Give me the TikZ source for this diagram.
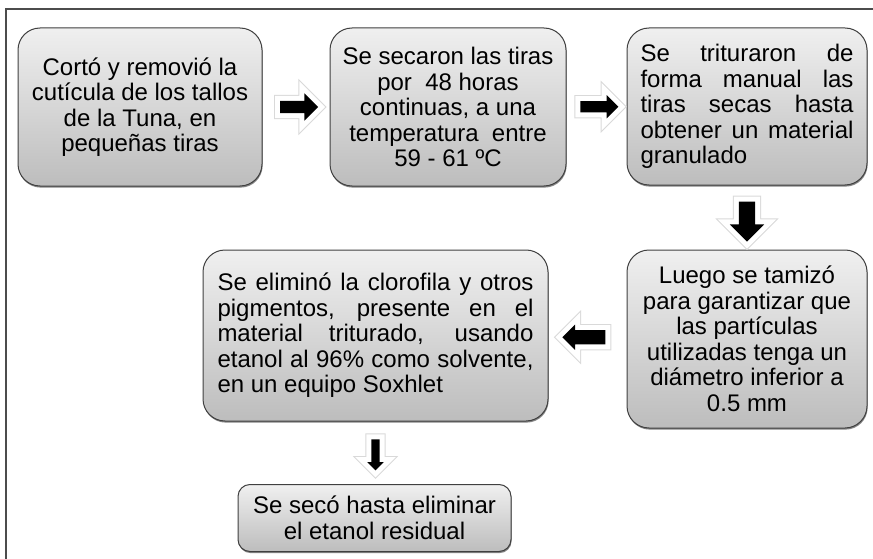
\documentclass[tikz,border=0pt]{standalone}
\usepackage{fontspec}
\setmainfont{Liberation Sans}
\usetikzlibrary{calc,shapes.arrows,shadows}

\begin{document}
\begin{tikzpicture}[x=1pt,y=-1pt,
  stepbox/.style={draw=black!75,line width=1pt,rounded corners=22pt,top color=gray!12,bottom color=gray!52,
    drop shadow={shadow xshift=0.6pt,shadow yshift=-1.6pt,fill=black!60,opacity=0.8},
    font=\fontsize{24}{25.5}\selectfont,inner xsep=12pt,inner ysep=4pt},
  blockarr/.style={single arrow,fill=black,inner xsep=0pt,
    preaction={draw=black!15,line width=12pt},preaction={draw=white,line width=10pt}}]
\useasboundingbox (0,0) rectangle (873,559);
\draw[black!70,line width=1.3pt] (6,9) rectangle (890,580);

\node[stepbox,minimum width=244pt,minimum height=158pt,align=center] (corte) at (140,107)
  {Cortó y removió la\\cutícula de los tallos\\de la Tuna, en\\pequeñas tiras};
\node[stepbox,minimum width=236pt,minimum height=158pt,align=center] (secado) at (448,107)
  {Se secaron las tiras\\por \ 48 horas\\continuas, a una\\temperatura \ entre\\59 - 61 ºC};
\node[stepbox,minimum width=240pt,minimum height=157pt,text width=213pt,inner xsep=13.5pt,align=justify] (triturado) at (747,106.5)
  {Se trituraron de\linebreak forma manual las\linebreak tiras secas hasta\linebreak obtener un material\linebreak granulado};
\node[stepbox,minimum width=240pt,minimum height=178pt,align=center] (tamizado) at (747,339)
  {Luego se tamizó\\para garantizar que\\las partículas\\utilizadas tenga un\\diámetro inferior a\\0.5 mm};
\node[stepbox,minimum width=345pt,minimum height=171pt,text width=316pt,inner xsep=14.5pt,align=justify] (clorofila) at (375.5,335.5)
  {Se eliminó la clorofila y otros\linebreak pigmentos, presente en el\linebreak material triturado, usando\linebreak etanol al 96\% como solvente,\linebreak en un equipo Soxhlet};
\node[stepbox,rounded corners=12pt,minimum width=273pt,minimum height=67pt,align=center] (etanol) at (374.5,518)
  {Se secó hasta eliminar\\el etanol residual};

\node[blockarr,minimum height=38pt,inner ysep=6pt,single arrow head extend=7.5pt] (f1) at ($(corte.east)!0.5!(secado.west)$) {};
\node[blockarr,minimum height=38pt,inner ysep=5.5pt,single arrow head extend=6pt] (f2) at ($(secado.east)!0.5!(triturado.west)$) {};
\node[blockarr,shape border rotate=270,minimum height=40pt,inner xsep=8pt,inner ysep=0pt,single arrow head extend=9pt] (f3) at ($(triturado.south)!0.5!(tamizado.north)$) {};
\node[blockarr,shape border rotate=180,minimum height=43pt,inner ysep=7pt,single arrow head extend=5.5pt] (f4) at ($(tamizado.west)!0.5!(clorofila.east)$) {};
\node[blockarr,shape border rotate=270,minimum height=31pt,inner xsep=4pt,inner ysep=0pt,single arrow head extend=4pt] (f5) at ($(clorofila.south)!0.5!(clorofila.south|-etanol.north)$) {};
\end{tikzpicture}
\end{document}
